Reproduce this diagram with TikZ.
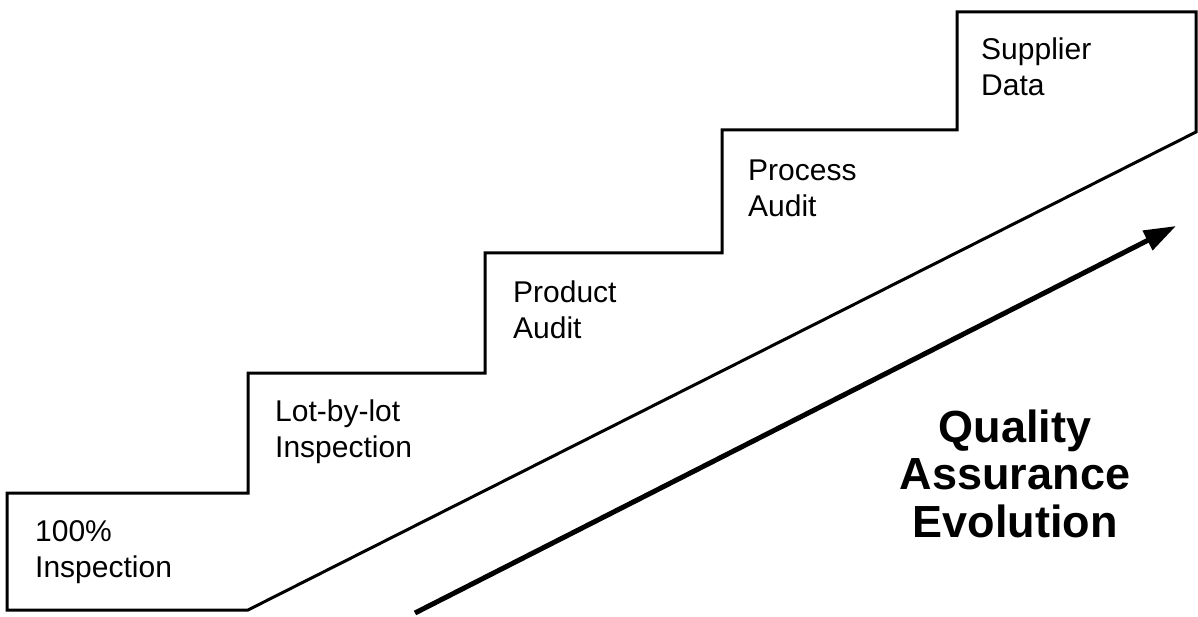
\documentclass[tikz,border=0pt]{standalone}
\usepackage{fontspec}
\setmainfont{Liberation Sans}
\usetikzlibrary{arrows.meta}
\begin{document}
\begin{tikzpicture}[x=1pt,y=-1pt,
  outline/.style={line width=3pt, line join=miter},
  steplabel/.style={anchor=base west, inner sep=0pt, align=left, font=\fontsize{30}{36}\selectfont},
  title/.style={anchor=base, inner sep=0pt, align=center, font=\fontsize{45}{47.5}\selectfont\bfseries},
  evoarrow/.style={line width=5pt, -{Triangle[length=32pt,width=21pt]}}]
\useasboundingbox (0,0) rectangle (1198,617);
\draw[outline] (7,493) -- (248,493) -- (248,373) -- (485,373) -- (485,253)
  -- (722,253) -- (722,130) -- (957,130) -- (957,12) -- (1196,12)
  -- (1196,132) -- (248,610) -- (7,610) -- cycle;
\node[steplabel] (s1) at (35,577) {100\%\\Inspection};
\node[steplabel] (s2) at (275,457) {Lot-by-lot\\Inspection};
\node[steplabel] (s3) at (513,338) {Product\\Audit};
\node[steplabel] (s4) at (748,217) {Process\\Audit};
\node[steplabel] (s5) at (981,96) {Supplier\\Data};
\coordinate (a0) at (415,613);
\coordinate (a1) at (1176,226);
\draw[evoarrow] (a0) -- (a1);
\node[title] (t) at (1015,537) {Quality\\Assurance\\Evolution};
\end{tikzpicture}
\end{document}
